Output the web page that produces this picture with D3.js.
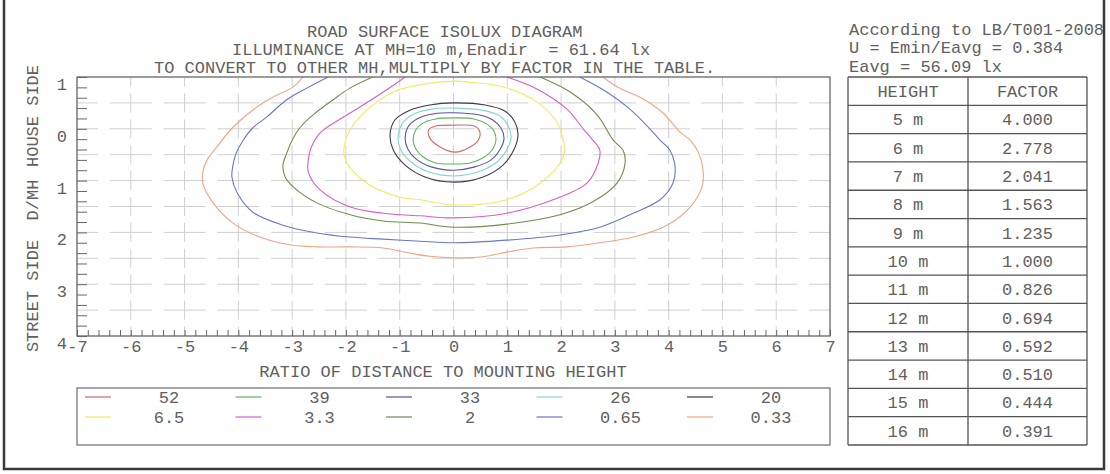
<!DOCTYPE html>
<html><head><meta charset="utf-8">
<script src="https://cdn.jsdelivr.net/npm/d3@7/dist/d3.min.js"></script>
<style>
body{margin:0;background:#fff}
svg{display:block}
text{font-family:"Courier New","Liberation Mono",monospace;fill:#606060;font-size:17px}
</style>
</head><body>
<svg id="c" width="1110" height="474"></svg>
<script>
// ---------- data ----------
const titleLines = ["ROAD SURFACE ISOLUX DIAGRAM",
  "ILLUMINANCE AT MH=10 m,Enadir  = 61.64 lx",
  "TO CONVERT TO OTHER MH,MULTIPLY BY FACTOR IN THE TABLE."];
const infoLines = ["According to LB/T001-2008", "U = Emin/Eavg = 0.384", "Eavg = 56.09 lx"];
const xTickValues = [-7,-6,-5,-4,-3,-2,-1,0,1,2,3,4,5,6,7];
const yTickValues = [-1,0,1,2,3,4];
const yTickLabels = ["1","0","1","2","3","4"];
const xTitle = "RATIO OF DISTANCE TO MOUNTING HEIGHT";
const yTitles = ["STREET SIDE", "D/MH", "HOUSE SIDE"];
const tableHeader = ["HEIGHT", "FACTOR"];
const heights = ["5 m","6 m","7 m","8 m","9 m","10 m","11 m","12 m","13 m","14 m","15 m","16 m"];
const factors = ["4.000","2.778","2.041","1.563","1.235","1.000","0.826","0.694","0.592","0.510","0.444","0.391"];
const levels = ["52","39","33","26","20","6.5","3.3","2","0.65","0.33"];
const levelColors = ["#d46a6a","#5fb35f","#5656a6","#86d2da","#3c3c4c","#ecec62","#de5cc6","#6f8d4f","#6678c6","#f0a482"];

// contour points: [ratio x, D/MH y] (negative y = house side)
const iso052 = [[-0.46,0.02],[-0.34,-0.05],[0,-0.07],[0.40,-0.05],[0.49,0.06],[0.46,0.22],[0.31,0.35],[0.03,0.45],[-0.25,0.35],[-0.44,0.18]];
const iso039 = [[0,-0.21],[0.38,-0.19],[0.62,-0.09],[0.75,0.04],[0.79,0.22],[0.72,0.41],[0.55,0.56],[0.31,0.66],[0,0.68],[-0.33,0.66],[-0.57,0.54],[-0.70,0.39],[-0.75,0.22],[-0.70,0.02],[-0.57,-0.11],[-0.33,-0.19]];
const iso033 = [[0,-0.31],[0.46,-0.27],[0.73,-0.17],[0.88,-0.02],[0.94,0.18],[0.86,0.41],[0.70,0.60],[0.38,0.74],[0,0.80],[-0.40,0.74],[-0.70,0.58],[-0.85,0.39],[-0.90,0.18],[-0.85,-0.03],[-0.68,-0.19],[-0.36,-0.29]];
const iso026 = [[0,-0.40],[0.53,-0.36],[0.86,-0.25],[1.01,-0.07],[1.07,0.16],[0.99,0.41],[0.81,0.64],[0.46,0.83],[0,0.91],[-0.47,0.83],[-0.79,0.64],[-0.98,0.41],[-1.03,0.16],[-0.96,-0.09],[-0.73,-0.29],[-0.40,-0.38]];
const iso020 = [[0,-0.50],[0.59,-0.46],[0.96,-0.34],[1.14,-0.13],[1.20,0.12],[1.12,0.41],[0.92,0.70],[0.55,0.93],[0,1.03],[-0.53,0.93],[-0.90,0.70],[-1.12,0.41],[-1.18,0.12],[-1.09,-0.17],[-0.81,-0.36],[-0.44,-0.46]];
const iso6_5 = [[0,-0.92],[0.31,-0.90],[0.92,-0.81],[1.55,-0.52],[1.92,-0.13],[2.04,0.22],[2.07,0.41],[1.98,0.66],[1.61,1.05],[0.99,1.37],[0,1.47],[-0.62,1.37],[-0.99,1.32],[-1.61,1.05],[-1.98,0.66],[-2.04,0.41],[-1.92,0.02],[-1.61,-0.36],[-1.12,-0.71],[-0.62,-0.85]];
const iso3_3 = [[-0.90,-1.00],[-1.09,-0.86],[-1.74,-0.42],[-2.20,-0.13],[-2.48,0.08],[-2.65,0.37],[-2.70,0.60],[-2.70,0.83],[-2.48,1.18],[-1.92,1.51],[-1.31,1.63],[-0.62,1.68],[0,1.72],[0.99,1.63],[1.85,1.37],[2.48,1.05],[2.69,0.66],[2.72,0.41],[2.59,0.22],[2.41,0.00],[2.11,-0.38],[1.55,-0.77],[0.99,-1.00]];
const iso2 = [[-1.50,-1.00],[-1.92,-0.79],[-2.24,-0.56],[-2.61,-0.27],[-2.85,-0.03],[-3.00,0.22],[-3.10,0.47],[-3.17,0.70],[-3.13,0.93],[-2.98,1.12],[-2.54,1.43],[-1.92,1.66],[-1.31,1.78],[-0.62,1.82],[0,1.90],[0.99,1.84],[1.98,1.66],[2.59,1.41],[3.04,1.05],[3.19,0.66],[3.15,0.41],[2.97,0.22],[2.67,-0.27],[2.17,-0.71],[1.61,-1.00]];
const iso0_65 = [[-2.33,-1.00],[-2.72,-0.79],[-3.10,-0.56],[-3.47,-0.23],[-3.73,-0.02],[-3.91,0.22],[-4.04,0.47],[-4.10,0.70],[-4.12,0.93],[-4.02,1.24],[-3.73,1.61],[-3.17,1.86],[-2.54,2.01],[-1.92,2.09],[-1.31,2.13],[-0.62,2.17],[0,2.20],[0.99,2.15],[1.98,2.05],[2.72,1.90],[3.34,1.63],[3.84,1.37],[4.08,1.05],[4.12,0.74],[4.02,0.41],[3.84,0.22],[3.65,0.00],[3.28,-0.38],[2.85,-0.71],[2.35,-1.00]];
const iso0_33 = [[-2.80,-1.00],[-2.98,-0.81],[-3.36,-0.61],[-3.60,-0.46],[-4.10,-0.03],[-4.40,0.35],[-4.58,0.60],[-4.66,0.83],[-4.66,1.05],[-4.47,1.43],[-4.10,1.82],[-3.60,2.09],[-3.04,2.24],[-2.54,2.28],[-1.92,2.28],[-1.31,2.30],[-0.81,2.40],[-0.44,2.46],[0,2.49],[0.55,2.47],[0.99,2.38],[1.48,2.30],[2.11,2.28],[2.72,2.20],[3.34,2.09],[3.97,1.86],[4.40,1.51],[4.62,1.12],[4.64,0.80],[4.55,0.45],[4.40,0.22],[4.21,0.06],[3.89,-0.31],[3.52,-0.58],[3.04,-0.81],[2.78,-1.00]];

const contours = [
  {level:"0.33", pts: iso0_33, closed:false},
  {level:"0.65", pts: iso0_65, closed:false},
  {level:"2",    pts: iso2,    closed:false},
  {level:"3.3",  pts: iso3_3,  closed:false},
  {level:"6.5",  pts: iso6_5,  closed:true},
  {level:"20",   pts: iso020,  closed:true},
  {level:"26",   pts: iso026,  closed:true},
  {level:"33",   pts: iso033,  closed:true},
  {level:"39",   pts: iso039,  closed:true},
  {level:"52",   pts: iso052,  closed:true}
];

// ---------- layout ----------
const svg = d3.select("#c");
const P = {left:77, right:830, top:77, bottom:336};
const x = d3.scaleLinear().domain([-7,7]).range([P.left,P.right]);
const y = d3.scaleLinear().domain([-1,4]).range([P.top,P.bottom]);
const color = d3.scaleOrdinal().domain(levels).range(levelColors);
const FONT = '"Courier New","Liberation Mono",monospace';

// outer frame
svg.append("path").attr("d", `M4,-5 L4,469 L1104,469 L1104,-5`)
  .attr("fill","none").attr("stroke","#3a3a3a").attr("stroke-width",2.5);

// titles
const titleX = [307, 232, 154];
svg.selectAll("text.title").data(titleLines).join("text").attr("class","title")
  .attr("x",(d,i)=>titleX[i]).attr("y",(d,i)=>37+18*i)
  .style("white-space","pre").text(d=>d);

// grid
const grid = svg.append("g");
const hLines = d3.range(-0.5, 4, 0.5);
grid.selectAll("line.h").data(hLines).join("line")
  .attr("x1",P.left).attr("x2",P.right).attr("y1",d=>y(d)).attr("y2",d=>y(d))
  .attr("stroke","#cfcfcf").attr("stroke-width",1)
  .attr("stroke-dasharray",`42 ${x(1)-x(0)-42}`).attr("stroke-dashoffset",21);
const vLines = d3.range(-6, 7, 1);
grid.selectAll("line.v").data(vLines).join("line")
  .attr("x1",d=>x(d)).attr("x2",d=>x(d)).attr("y1",P.top).attr("y2",P.bottom)
  .attr("stroke","#cfcfcf").attr("stroke-width",1)
  .attr("stroke-dasharray",`19 ${(y(0.5)-y(0))-19}`).attr("stroke-dashoffset",9.5);

// contours
svg.append("clipPath").attr("id","pc").append("rect")
  .attr("x",P.left).attr("y",P.top).attr("width",P.right-P.left).attr("height",P.bottom-P.top);
const gc = svg.append("g").attr("clip-path","url(#pc)");
gc.selectAll("path").data(contours).join("path")
  .attr("d", c => d3.line().x(p=>x(p[0])).y(p=>y(p[1]))
      .curve(c.closed ? d3.curveCatmullRomClosed.alpha(0.5) : d3.curveCatmullRom.alpha(0.5))(c.pts))
  .attr("fill","none").attr("stroke",c=>color(c.level)).attr("stroke-width",1.1);

// axes: minor ticks
const minorX = d3.range(-7, 7.001, 0.2).map(v=>+v.toFixed(2));
svg.append("g").attr("transform",`translate(0,${P.bottom})`)
  .call(d3.axisBottom(x).tickValues(minorX).tickSize(-6).tickFormat(""))
  .call(g=>{g.select(".domain").remove(); g.selectAll("line").attr("stroke","#666");});
const minorY = d3.range(-1, 4.001, 0.2).map(v=>+v.toFixed(2));
svg.append("g").attr("transform",`translate(${P.left},0)`)
  .call(d3.axisLeft(y).tickValues(minorY).tickSize(-10).tickFormat(""))
  .call(g=>{g.select(".domain").remove(); g.selectAll("line").attr("stroke","#666");});

// tick labels
svg.append("g").attr("transform",`translate(0,${P.bottom})`)
  .call(d3.axisBottom(x).tickValues(xTickValues).tickSize(0).tickFormat(d=>String(d)))
  .call(g=>{g.select(".domain").remove();
    g.selectAll("text").attr("y",10).attr("dy","0.35em").attr("fill","#606060")
      .style("font-size","17px").style("font-family",FONT);});
svg.append("g").attr("transform",`translate(${P.left},0)`)
  .call(d3.axisLeft(y).tickValues(yTickValues).tickSize(0).tickPadding(10).tickFormat((d,i)=>yTickLabels[i]))
  .call(g=>{g.select(".domain").remove();
    g.selectAll("text").attr("y",6.5).attr("dy","0.35em").attr("fill","#606060")
      .style("font-size","17px").style("font-family",FONT);});

// plot border
svg.append("rect").attr("x",P.left).attr("y",P.top).attr("width",P.right-P.left).attr("height",P.bottom-P.top)
  .attr("fill","none").attr("stroke","#666").attr("stroke-width",1.3);

// axis titles
svg.append("text").attr("x",443).attr("y",377).attr("text-anchor","middle").text(xTitle);
const yTitleCenters = [296, 200, 116];
svg.selectAll("text.yt").data(yTitles).join("text").attr("class","yt")
  .attr("transform",(d,i)=>`translate(32,${yTitleCenters[i]}) rotate(-90)`)
  .attr("text-anchor","middle").attr("dy","0.35em").text(d=>d);

// legend
const L = {left:77, right:830, top:388, bottom:445};
svg.append("rect").attr("x",L.left).attr("y",L.top).attr("width",L.right-L.left).attr("height",L.bottom-L.top)
  .attr("fill","none").attr("stroke","#777").attr("stroke-width",1.3);
const colX = d3.scaleLinear().domain([0,4]).range([85, 687]);
const rowY = d3.scaleLinear().domain([0,1]).range([397, 417]);
const lg = svg.append("g");
const items = lg.selectAll("g").data(levels).join("g")
  .attr("transform",(d,i)=>`translate(${colX(i%5)},${rowY(Math.floor(i/5))})`);
items.append("line").attr("x1",0).attr("x2",26).attr("y1",0).attr("y2",0)
  .attr("stroke",d=>color(d)).attr("stroke-width",1.2);
items.append("text").attr("x",84).attr("dy","0.35em").attr("text-anchor","middle").text(d=>d);

// info text
svg.selectAll("text.info").data(infoLines).join("text").attr("class","info")
  .attr("x",849).attr("y",(d,i)=>35+18.3*i).text(d=>d);

// table
const rows = [tableHeader].concat(heights.map((h,i)=>[h,factors[i]]));
const rowBand = d3.scaleBand().domain(d3.range(rows.length)).range([77,445]);
const colEdges = [848, 968, 1087];
const tg = svg.append("g");
tg.selectAll("line.r").data(d3.range(rows.length+1)).join("line")
  .attr("x1",colEdges[0]).attr("x2",colEdges[2])
  .attr("y1",i=>i<rows.length?rowBand(i):rowBand(rows.length-1)+rowBand.bandwidth())
  .attr("y2",i=>i<rows.length?rowBand(i):rowBand(rows.length-1)+rowBand.bandwidth())
  .attr("stroke","#555").attr("stroke-width",1.3);
tg.selectAll("line.c").data(colEdges).join("line")
  .attr("x1",d=>d).attr("x2",d=>d).attr("y1",77).attr("y2",445)
  .attr("stroke","#555").attr("stroke-width",1.3);
rows.forEach((r,i)=>{
  r.forEach((t,j)=>{
    tg.append("text").attr("x",(colEdges[j]+colEdges[j+1])/2)
      .attr("y",rowBand(i)+rowBand.bandwidth()/2).attr("dy","0.35em")
      .attr("text-anchor","middle").text(t);
  });
});
</script>
</body></html>
